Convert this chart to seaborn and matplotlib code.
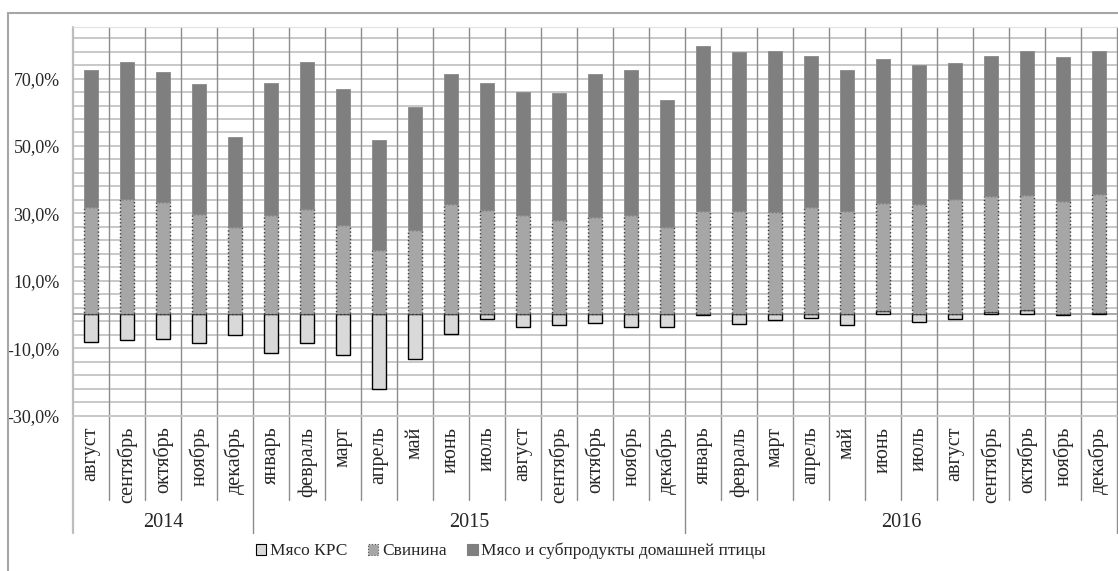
import numpy as np
import pandas as pd
import matplotlib
matplotlib.use("Agg")
import matplotlib.pyplot as plt
import seaborn as sns
from matplotlib.patches import Patch, Rectangle


# -------------------- DATA --------------------
months = [
    "август", "сентябрь", "октябрь", "ноябрь", "декабрь",
    "январь", "февраль", "март", "апрель", "май", "июнь", "июль",
    "август", "сентябрь", "октябрь", "ноябрь", "декабрь",
    "январь", "февраль", "март", "апрель", "май", "июнь", "июль",
    "август", "сентябрь", "октябрь", "ноябрь", "декабрь",
]
years = ["2014", "2015", "2016"]
year_counts = [5, 12, 12]

# Мясо КРС
beef = [-8.1, -7.6, -7.2, -8.4, -6.2,
        -11.4, -8.6, -12.0, -22.2, -13.1, -5.9, -1.5,
        -3.8, -3.2, -2.4, -3.8, -3.8,
        -0.3, -2.9, -1.7, -1.1, -3.2, 1.0, -2.2,
        -1.3, 0.6, 1.3, -0.3, 0.5]
# Свинина
pork = [31.9, 34.4, 33.3, 29.9, 26.0,
        29.5, 31.3, 26.4, 19.1, 25.0, 32.7, 31.1,
        29.4, 28.1, 28.8, 29.5, 25.9,
        30.8, 30.6, 30.5, 31.8, 30.6, 32.0, 32.7,
        34.2, 34.5, 34.2, 33.7, 35.2]
# Мясо и субпродукты домашней птицы
poultry = [40.5, 40.5, 38.6, 38.6, 26.7,
           39.3, 43.6, 40.6, 32.7, 36.5, 38.7, 37.6,
           36.6, 37.5, 42.6, 43.1, 37.7,
           48.8, 47.2, 47.6, 45.0, 42.0, 42.9, 41.4,
           40.5, 41.7, 42.6, 42.8, 42.4]

labels = ["Мясо КРС", "Свинина", "Мясо и субпродукты домашней птицы"]
colors = ["#d9d9d9", "#a6a6a6", "#7f7f7f"]


def build_frame():
    df = pd.DataFrame({"pos": range(len(months)), "month": months,
                       "beef": beef, "pork": pork, "poultry": poultry})
    # positives stack from zero, negatives go down from zero
    df["pork_base"] = df["beef"].clip(lower=0)
    df["poultry_base"] = df["pork_base"] + df["pork"]
    return df


# -------------------- PLOT --------------------
def main():
    df = build_frame()

    sns.set_style("white")
    plt.rcParams["font.family"] = ["Liberation Serif", "DejaVu Serif"]

    W, H = 1118, 571
    fig = plt.figure(figsize=(W / 100, H / 100), dpi=100)
    ax = fig.add_axes([73 / W, 1 - 415.5 / H, (1117 - 73) / W, (415.5 - 27) / H])

    common = dict(x="pos", width=0.39, saturation=1, errorbar=None, ax=ax, zorder=3)
    sns.barplot(data=df, y="beef", color=colors[0], edgecolor="black",
                linewidth=1.0, **common)
    sns.barplot(data=df, y="pork", bottom=df["pork_base"].to_numpy(), color=colors[1],
                edgecolor="#3a3a3a", linewidth=1.0, linestyle=":", **common)
    sns.barplot(data=df, y="poultry", bottom=df["poultry_base"].to_numpy(), color=colors[2],
                edgecolor="#8a8a8a", linewidth=0.6, **common)

    n = len(months)
    ax.set_xlim(-0.5, n - 0.5)
    ax.set_ylim(-30, 85.3)

    # y axis
    major = [-30, -10, 10, 30, 50, 70]
    ax.set_yticks(major)
    ax.set_yticklabels([f"{v:.1f}%".replace(".", ",") for v in major], fontsize=13)
    ax.set_yticks(np.arange(-30, 85, 4), minor=True)
    ax.tick_params(axis="y", which="major", length=4.5, width=1, color="#9a9a9a",
                   direction="out", pad=5)
    ax.tick_params(axis="y", which="minor", length=0)
    ax.grid(axis="y", which="both", color="#c8c8c8", linewidth=1.4)
    ax.set_axisbelow(True)
    ax.axhline(0, color="#9a9a9a", linewidth=1.2, zorder=2)

    # x axis: month labels
    ax.set_xticks(range(n))
    ax.set_xticklabels(months, rotation=90, fontsize=14.5)
    ax.tick_params(axis="x", length=0, pad=8)
    ax.set_xlabel("")
    ax.set_ylabel("")

    for s in ["left", "right", "bottom"]:
        ax.spines[s].set_visible(False)
    ax.spines["top"].set_color("#e0e0e0")

    # category separators running down into the label area
    trans = ax.get_xaxis_transform()
    year_edges = np.cumsum([0] + year_counts) - 0.5
    for k in np.arange(-0.5, n, 1.0):
        low = -0.3024 if k in year_edges else -0.2175
        col = "#bdbdbd" if k == -0.5 else "#8c8c8c"
        lw = 1.6 if k == -0.5 else 1.0
        ax.plot([k, k], [1, low], transform=trans, color=col, linewidth=lw,
                clip_on=False, zorder=1)
    ax.plot([-0.5, n - 0.5], [0, 0], transform=trans, color="#c8c8c8",
            linewidth=1.4, clip_on=False, zorder=1)

    # year labels
    for y, a, b in zip(years, year_edges[:-1], year_edges[1:]):
        ax.text((a + b) / 2, -0.275, y, transform=trans, ha="center",
                va="center", fontsize=14.5)

    # chart frame
    fig.patches.append(Rectangle((8 / W, -0.1), 1.2, 1 - 13 / H + 0.1,
                                 transform=fig.transFigure, fill=False,
                                 edgecolor="#a6a6a6", linewidth=1.5))

    handles = [
        Patch(facecolor=colors[0], edgecolor="black", linewidth=0.8),
        Patch(facecolor=colors[1], edgecolor="#555555", linestyle=":", linewidth=0.8),
        Patch(facecolor=colors[2], edgecolor=colors[2], linewidth=0.8),
    ]
    fig.legend(handles, labels, loc="center", bbox_to_anchor=(0.457, 0.035),
               ncol=3, frameon=False, fontsize=12.5, handlelength=0.6,
               handleheight=0.6, handletextpad=0.2, columnspacing=1.2)

    fig.savefig("out.png", dpi=100)


if __name__ == "__main__":
    main()
